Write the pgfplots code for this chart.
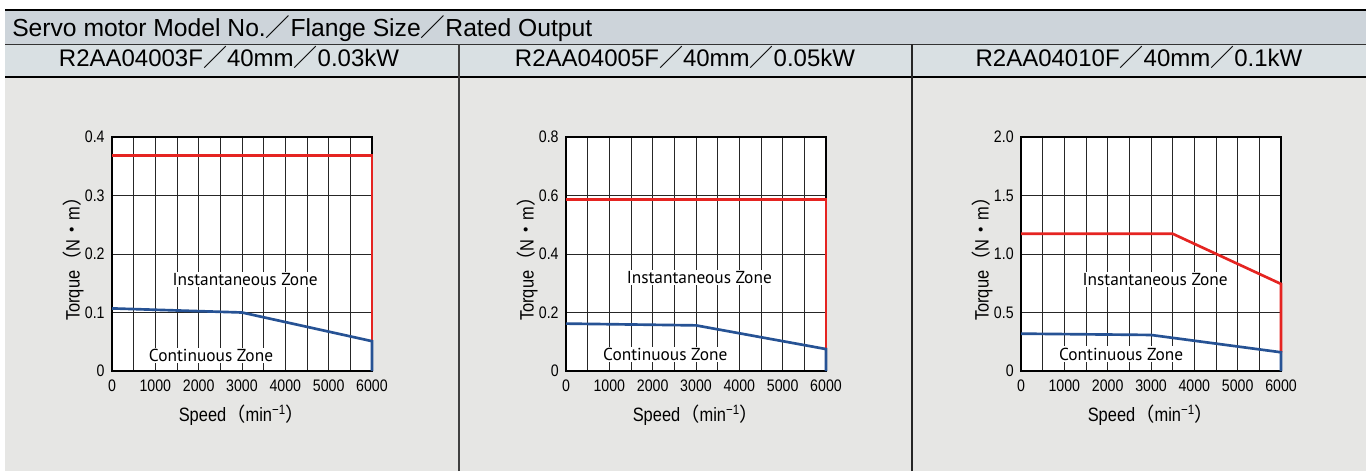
\documentclass[border=0pt]{standalone}
\usepackage{fontspec}
\setmainfont{Liberation Sans}
\newfontfamily\cjk{Noto Sans CJK JP}
\newfontfamily\condfont[FakeStretch=0.85]{Liberation Sans}
\newfontfamily\zonefont{PT Sans}
\usepackage{pgfplots}
\pgfplotsset{compat=1.18}
\definecolor{rowA}{RGB}{205,212,218}
\definecolor{rowB}{RGB}{217,224,227}
\definecolor{panel}{RGB}{230,230,228}
\definecolor{cred}{RGB}{229,36,33}
\definecolor{cblue}{RGB}{38,82,148}
\tikzset{zone/.style={fill=white,inner sep=1pt,font=\zonefont\fontsize{13}{13}\selectfont}}
\newcommand\tickfont{\condfont\fontsize{12.5}{12.5}\selectfont}
\newcommand\labfont{\condfont\fontsize{14.5}{14.5}\selectfont}
\pgfplotsset{motor/.style={
  scale only axis, width=195pt, height=175.5pt,
  xmin=0, xmax=6000, ymin=0,
  xtick={0,1000,2000,3000,4000,5000,6000},
  xticklabels={0,1000,2000,3000,4000,5000,6000},
  minor xtick={500,1500,2500,3500,4500,5500},
  grid=both,
  major grid style={black!85,line width=0.6pt},
  minor grid style={black!85,line width=0.6pt},
  major tick length=0pt, minor tick length=0pt,
  axis line style={black,line width=1.4pt},
  axis background/.style={fill=white},
  xticklabel style={font=\tickfont,yshift=-3pt},
  yticklabel style={font=\tickfont,xshift=-2pt},
  xlabel={Speed{\cjk （}min\textsuperscript{−1}{\cjk ）}},
  ylabel={Torque{\cjk （}N{\cjk ・}m{\cjk ）}},
  xlabel style={font=\labfont,at={(axis description cs:0.5,0)},anchor=center,yshift=-33pt},
  ylabel style={font=\labfont,at={(axis description cs:0,0.5)},anchor=center,yshift=29pt},
  clip=false,
  every axis plot/.append style={line width=2pt},
}}
\begin{document}
\begin{tikzpicture}[x=0.75pt,y=0.75pt]
\fill[white] (0,0) rectangle (1371,471);
\fill[rowA] (5,427) rectangle (1366,460);
\fill[rowB] (5,393.5) rectangle (1366,427);
\fill[panel] (5,0) rectangle (1366,393.5);
\draw[black,line width=1.5pt] (5,461) -- (1366,461);
\draw[black!80,line width=0.75pt] (5,426.5) -- (1366,426.5);
\draw[black,line width=1.5pt] (5,393.5) -- (1366,393.5);
\draw[black!75,line width=1.2pt] (459,0) -- (459,426.5);
\draw[black!85,line width=1.5pt] (912,0) -- (912,426.5);
\node[anchor=base west,inner sep=0pt,font=\fontsize{18.5}{20}\selectfont] at (12,434) {Servo motor Model No.{\cjk ／}Flange Size{\cjk ／}Rated Output};
\node[anchor=base,inner sep=0pt,font=\fontsize{18}{20}\selectfont] at (229,404) {R2AA04003F{\cjk ／}40mm{\cjk ／}0.03kW};
\node[anchor=base,inner sep=0pt,font=\fontsize{18}{20}\selectfont] at (685,404) {R2AA04005F{\cjk ／}40mm{\cjk ／}0.05kW};
\node[anchor=base,inner sep=0pt,font=\fontsize{18}{20}\selectfont] at (1139,404) {R2AA04010F{\cjk ／}40mm{\cjk ／}0.1kW};

\begin{axis}[motor, at={(84pt,75pt)}, anchor=south west, ymax=0.4,
  ytick={0,0.1,0.2,0.3,0.4}, yticklabels={0,0.1,0.2,0.3,0.4}]
\node[zone] at (axis cs:3070,0.156) {Instantaneous Zone};
\node[zone] at (axis cs:2285,0.027) {Continuous Zone};
\addplot[cred] coordinates {(0,0.368) (6000,0.368) (6000,0.051)};
\addplot[cblue] coordinates {(0,0.107) (3000,0.100) (6000,0.051) (6000,0)};
\end{axis}

\begin{axis}[motor, at={(424.5pt,75pt)}, anchor=south west, ymax=0.8,
  ytick={0,0.2,0.4,0.6,0.8}, yticklabels={0,0.2,0.4,0.6,0.8}]
\node[zone] at (axis cs:3076,0.32) {Instantaneous Zone};
\node[zone] at (axis cs:2291,0.057) {Continuous Zone};
\addplot[cred] coordinates {(0,0.587) (6000,0.587) (6000,0.075)};
\addplot[cblue] coordinates {(0,0.162) (3000,0.156) (6000,0.075) (6000,0)};
\end{axis}

\begin{axis}[motor, at={(765.75pt,75pt)}, anchor=south west, ymax=2.0,
  ytick={0,0.5,1.0,1.5,2.0}, yticklabels={0,0.5,1.0,1.5,2.0}]
\node[zone] at (axis cs:3096,0.786) {Instantaneous Zone};
\node[zone] at (axis cs:2312,0.145) {Continuous Zone};
\addplot[cred] coordinates {(0,1.173) (3500,1.173) (6000,0.744) (6000,0.16)};
\addplot[cblue] coordinates {(0,0.319) (3000,0.308) (6000,0.16) (6000,0)};
\end{axis}
\end{tikzpicture}
\end{document}
